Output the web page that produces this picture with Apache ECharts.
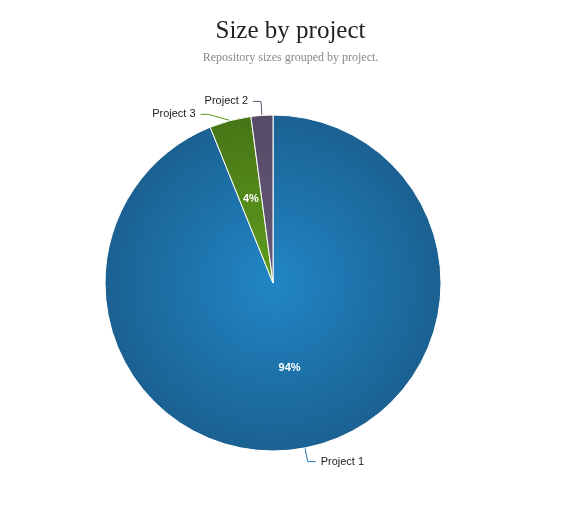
<!DOCTYPE html>
<html><head><meta charset="utf-8">
<script src="https://cdn.jsdelivr.net/npm/echarts@6/dist/echarts.min.js"></script>
<style>html,body{margin:0;padding:0;background:#fff}#c{width:581px;height:514px}</style>
</head><body><div id="c"></div>
<script>
const categories = ["Project 1", "Project 3", "Project 2"];
const values = [93.9, 4.0, 2.1];
const innerShown = [true, true, false];
const cx = 273, cy = 283, R = 168;
function grad(inner, outer){
  return {type:'radial', x:cx, y:cy, r:R, global:true,
    colorStops:[{offset:0,color:inner},{offset:1,color:outer}]};
}
const fills = [grad('#2186c6','#1b6192'), grad('#5f9e1d','#477516'), grad('#655878','#564b66')];
const lineColors = ['#1f77b4','#5a9a1a','#5e5470'];
const chart = echarts.init(document.getElementById('c'));
const base = {type:'pie', center:[cx,cy], radius:[0,R], startAngle:90, clockwise:true, animation:false};
chart.setOption({
  title:{text:'Size by project', subtext:'Repository sizes grouped by project.', left:'center', top:14,
    textStyle:{fontFamily:'Liberation Serif', fontSize:25, fontWeight:'normal', color:'#222'},
    subtextStyle:{fontFamily:'Liberation Serif', fontSize:12, color:'#888'}, itemGap:8},
  series:[
    Object.assign({}, base, {
      itemStyle:{borderColor:'#fff', borderWidth:1},
      label:{show:true, position:'inside', color:'#fff', fontWeight:'bold', fontSize:11, fontFamily:'Liberation Sans',
        formatter:p=>Math.round(p.value)+'%'},
      labelLine:{show:false},
      data: categories.map((n,i)=>({name:n, value:values[i], itemStyle:{color:fills[i]}, label:{show:innerShown[i]}}))
    }),
    Object.assign({}, base, {
      silent:true, z:1,
      itemStyle:{color:'rgba(0,0,0,0)'},
      label:{show:true, position:'outside', color:'#222', fontSize:11, fontFamily:'Liberation Sans'},
      labelLine:{show:true, length:14, length2:8},
      data: categories.map((n,i)=>({name:n, value:values[i], labelLine:{lineStyle:{color:lineColors[i]}}}))
    })
  ]
});
</script></body></html>
